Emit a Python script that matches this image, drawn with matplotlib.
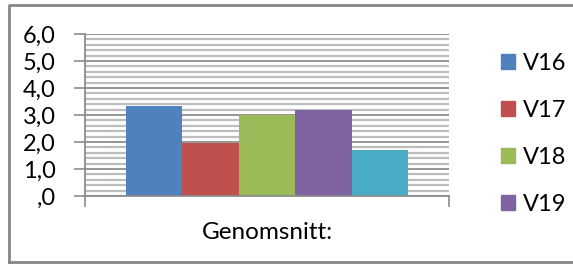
import matplotlib.pyplot as plt
from matplotlib.patches import Rectangle
from matplotlib.lines import Line2D

# data
series = ['V16', 'V17', 'V18', 'V19', 'V20']
values = [3.33, 1.97, 3.0, 3.19, 1.7]
category = 'Genomsnitt:'
yticks = [0, 1, 2, 3, 4, 5, 6]
ytick_labels = [',0', '1,0', '2,0', '3,0', '4,0', '5,0', '6,0']
colors = ['#4F81BD', '#C0504D', '#9BBB59', '#8064A2', '#4BACC6']

plt.rcParams['font.family'] = ['Lato', 'DejaVu Sans']

W, H = 573, 264
fig = plt.figure(figsize=(W / 100, H / 100), dpi=100)
ax = fig.add_axes([85 / W, (H - 196) / H, (449 - 85) / W, (196 - 34) / H])

gap = 0.1126
bw = (1 - 2 * gap) / len(values)
bars = []
for i, (v, c) in enumerate(zip(values, colors)):
    b = ax.bar(gap + i * bw, v, width=bw, align='edge', color=c, zorder=3)
    bars.append(b)

ax.set_xlim(0, 1)
ax.set_ylim(0, 6)

grid_major = '#8c8c8c'
grid_minor = '#bdbdbd'
ax.set_yticks(yticks)
ax.set_yticklabels(ytick_labels, fontsize=17)
ax.set_yticks([y / 5 for y in range(31) if y % 5], minor=True)
ax.yaxis.grid(True, which='major', color=grid_major, lw=1.3, zorder=0)
ax.yaxis.grid(True, which='minor', color=grid_minor, lw=1.6, zorder=0)
ax.tick_params(axis='y', which='major', length=8, width=1.2, color=grid_major,
               pad=13, labelcolor='black')
ax.tick_params(axis='y', which='minor', length=0)

ax.set_xticks([0, 1])
ax.set_xticklabels(['', ''])
ax.set_xticks([0.5], minor=True)
ax.set_xticklabels([category], minor=True, fontsize=17.5)
ax.tick_params(axis='x', which='major', length=8, width=1.2, color=grid_major)
ax.tick_params(axis='x', which='minor', length=0, pad=19)

for s in ['top', 'right']:
    ax.spines[s].set_visible(False)
for s in ['left', 'bottom']:
    ax.spines[s].set_color(grid_major)
    ax.spines[s].set_linewidth(1.3)
    ax.spines[s].set_zorder(4)

# legend (only four entries fit in the original)
handles = [Rectangle((0, 0), 1, 1, color=c) for c in colors[:4]]
leg = fig.legend(handles, series[:4], loc='upper left',
                 bbox_to_anchor=(489 / W, 1 - 41 / H), frameon=False,
                 fontsize=17, handlelength=0.62, handleheight=0.62,
                 handletextpad=0.3, labelspacing=1.1, borderpad=0)

# outer chart border
fig.add_artist(Line2D([8.5 / W, 8.5 / W, 1], [1 - 262 / H, 1 - 4.5 / H, 1 - 4.5 / H],
                      transform=fig.transFigure, color='#868686', lw=2))
fig.add_artist(Line2D([8.5 / W, 1], [1 - 262 / H, 1 - 262 / H],
                      transform=fig.transFigure, color='#868686', lw=2))

fig.savefig('out.png', dpi=100)
